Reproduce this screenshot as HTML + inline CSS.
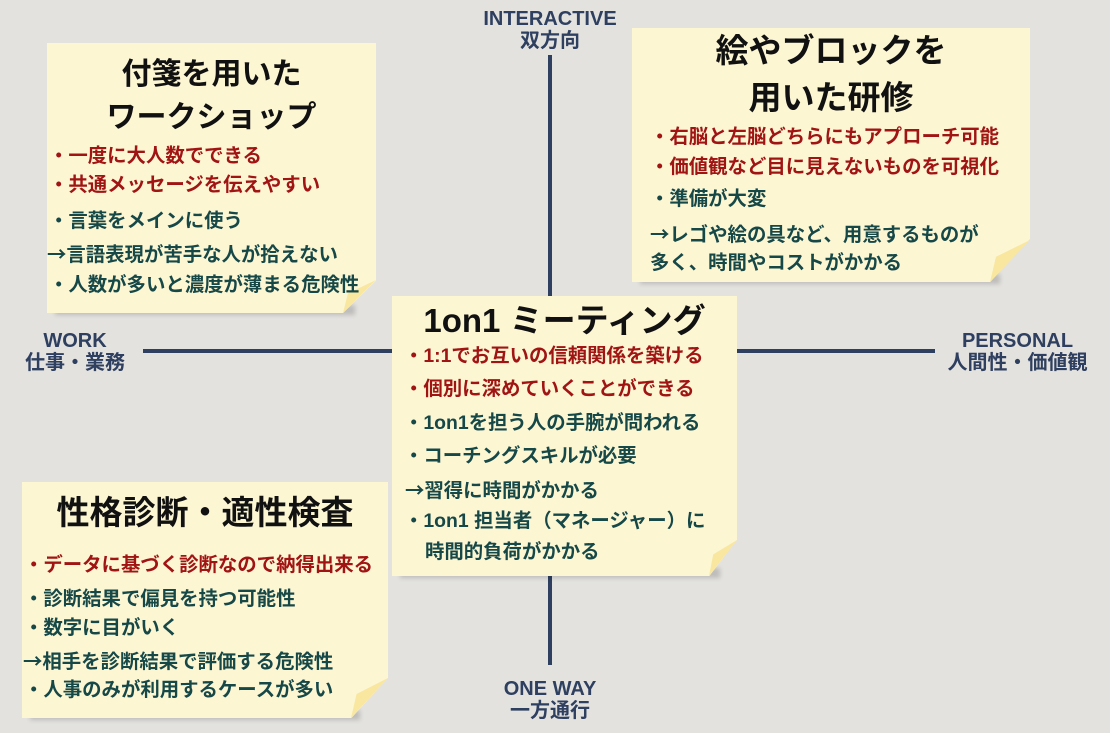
<!DOCTYPE html>
<html><head><meta charset="utf-8"><style>
body{margin:0;width:1110px;height:733px;background:#e3e2df;position:relative;overflow:hidden;font-family:"Liberation Sans","Noto Sans CJK JP",sans-serif;font-weight:bold}
.s{position:absolute;background:rgba(0,0,0,0.16);filter:blur(2px)}
.n{position:absolute;background:#fcf6d3}
.f{position:absolute;background:#f9e7a0}
.t{position:absolute;white-space:nowrap;line-height:1}
.h{font-size:30px;color:#111}
.r{font-size:19.4px;color:#a01414}
.g{font-size:19.4px;color:#174848}
.a{font-family:"Noto Sans CJK JP",sans-serif}
.ax{position:absolute;background:#2e3f5f}
.lb{position:absolute;color:#2e3f5f;font-size:20px;text-align:center;line-height:22px;white-space:nowrap}
</style></head><body>
<div class="ax" style="left:548px;top:55px;width:4px;height:610px"></div>
<div class="ax" style="left:143px;top:349px;width:792px;height:4px"></div>
<div class="lb" style="left:450px;top:8px;width:200px">INTERACTIVE<br>双方向</div>
<div class="lb" style="left:450px;top:678px;width:200px">ONE WAY<br>一方通行</div>
<div class="lb" style="left:0px;top:330px;width:150px">WORK<br>仕事・業務</div>
<div class="lb" style="left:925px;top:330px;width:185px">PERSONAL<br>人間性・価値観</div>

<div class="s" style="left:55px;top:305px;width:300px;height:10px"></div>
<div class="s" style="left:640px;top:274px;width:360px;height:10px"></div>
<div class="s" style="left:400px;top:568px;width:320px;height:10px"></div>
<div class="s" style="left:30px;top:710px;width:330px;height:10px"></div>

<div class="n" style="left:47px;top:43px;width:329px;height:270px;clip-path:polygon(0 0,100% 0,100% 88%,90% 100%,0 100%)"></div>
<div class="f" style="left:343px;top:280px;width:33px;height:33px;clip-path:polygon(100% 0,0 100%,15% 40%)"></div>
<div class="n" style="left:632px;top:28px;width:398px;height:254px;clip-path:polygon(0 0,100% 0,100% 83%,90% 100%,0 100%)"></div>
<div class="f" style="left:990px;top:240px;width:40px;height:42px;clip-path:polygon(100% 0,0 100%,15% 40%)"></div>
<div class="n" style="left:392px;top:296px;width:345px;height:280px;clip-path:polygon(0 0,100% 0,100% 87%,92% 100%,0 100%)"></div>
<div class="f" style="left:709px;top:540px;width:28px;height:36px;clip-path:polygon(100% 0,0 100%,15% 40%)"></div>
<div class="n" style="left:22px;top:482px;width:366px;height:236px;clip-path:polygon(0 0,100% 0,100% 83%,90% 100%,0 100%)"></div>
<div class="f" style="left:351px;top:678px;width:37px;height:40px;clip-path:polygon(100% 0,0 100%,15% 40%)"></div>

<div class="t h" style="left:47px;width:329px;text-align:center;top:60px">付箋を用いた</div>
<div class="t h" style="left:47px;width:329px;text-align:center;top:103px">ワークショップ</div>
<div class="t r" style="left:49px;top:147px">・一度に大人数でできる</div>
<div class="t r" style="left:49px;top:176px">・共通メッセージを伝えやすい</div>
<div class="t g" style="left:49px;top:212px">・言葉をメインに使う</div>
<div class="t g" style="left:47px;top:243px"><span class="a">→</span>言語表現が苦手な人が拾えない</div>
<div class="t g" style="left:49px;top:276px">・人数が多いと濃度が薄まる危険性</div>

<div class="t h" style="left:632px;width:398px;text-align:center;top:34px;font-size:33px">絵やブロックを</div>
<div class="t h" style="left:632px;width:398px;text-align:center;top:81px;font-size:33px">用いた研修</div>
<div class="t r" style="left:650px;top:128px">・右脳と左脳どちらにもアプローチ可能</div>
<div class="t r" style="left:650px;top:158px">・価値観など目に見えないものを可視化</div>
<div class="t g" style="left:650px;top:190px">・準備が大変</div>
<div class="t g" style="left:650px;top:223px"><span class="a">→</span>レゴや絵の具など、用意するものが</div>
<div class="t g" style="left:650px;top:254px">多く、時間やコストがかかる</div>

<div class="t h" style="left:392px;width:345px;text-align:center;top:304px;font-size:33px">1on1 ミーティング</div>
<div class="t r" style="left:404px;top:347px">・1:1でお互いの信頼関係を築ける</div>
<div class="t r" style="left:404px;top:380px">・個別に深めていくことができる</div>
<div class="t g" style="left:404px;top:414px">・1on1を担う人の手腕が問われる</div>
<div class="t g" style="left:404px;top:447px">・コーチングスキルが必要</div>
<div class="t g" style="left:405px;top:479px"><span class="a">→</span>習得に時間がかかる</div>
<div class="t g" style="left:404px;top:512px">・1on1 担当者（マネージャー）に</div>
<div class="t g" style="left:425px;top:543px">時間的負荷がかかる</div>

<div class="t h" style="left:22px;width:366px;text-align:center;top:496px;font-size:33px">性格診断・適性検査</div>
<div class="t r" style="left:24px;top:556px">・データに基づく診断なので納得出来る</div>
<div class="t g" style="left:24px;top:590px">・診断結果で偏見を持つ可能性</div>
<div class="t g" style="left:24px;top:619px">・数字に目がいく</div>
<div class="t g" style="left:23px;top:650px"><span class="a">→</span>相手を診断結果で評価する危険性</div>
<div class="t g" style="left:24px;top:681px">・人事のみが利用するケースが多い</div>
</body></html>
